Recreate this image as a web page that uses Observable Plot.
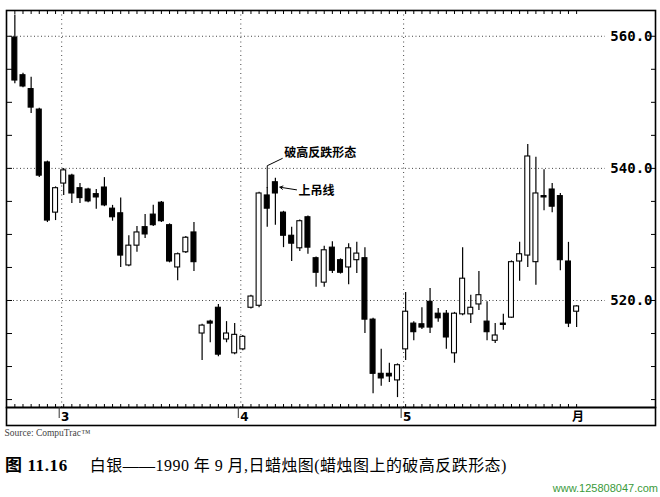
<!DOCTYPE html>
<html><head><meta charset="utf-8">
<script src="https://cdn.jsdelivr.net/npm/d3@7"></script>
<script src="https://cdn.jsdelivr.net/npm/@observablehq/plot@0.6"></script>
<style>
body{margin:0;background:#fff;width:660px;height:497px;overflow:hidden;position:relative}
#chart{position:absolute;left:0;top:0}
#caption{position:absolute;left:5px;top:451px;font-size:16px;font-family:"Liberation Serif","Noto Sans CJK SC",serif;white-space:nowrap;color:#000}
#caption .b{font-weight:bold;font-size:17px;letter-spacing:0.6px}
#caption .r{margin-left:22px;letter-spacing:0.45px}
#wm{position:absolute;right:2px;top:482px;font:11px "Liberation Sans",sans-serif;color:#3a9a3a}
</style></head><body>
<div id="chart"></div>
<div id="caption"><span class="b">图 11.16</span><span class="r">白银——1990 年 9 月,日蜡烛图(蜡烛图上的破高反跌形态)</span></div>
<div id="wm">www.125808047.com</div>
<script>
const opens = [559.8,554.1,552.0,548.9,540.9,533.3,537.7,538.9,537.0,536.8,
  536.1,537.1,533.9,533.2,525.3,528.3,531.1,533.0,534.8,531.4,
  525.0,527.3,530.3,515.0,516.8,518.9,514.1,512.0,512.6,518.9,
  519.2,535.9,537.9,533.3,529.8,527.9,532.6,526.4,522.7,528.0,
  526.1,525.0,526.1,526.4,517.1,508.9,508.9,507.9,512.6,516.5,
  516.4,519.8,518.0,518.0,512.0,517.9,517.9,519.4,516.8,513.9,
  516.5,517.4,525.9,526.8,525.8,535.8,536.8,535.8,525.9,518.3];
const highs = [563.2,554.4,553.8,549.1,541.1,537.2,540.0,539.1,537.7,537.0,
  536.8,538.6,534.4,535.5,529.8,531.2,533.0,534.4,535.0,531.6,
  527.2,529.7,531.8,516.4,517.0,519.4,516.8,516.5,514.7,520.8,
  536.4,537.1,538.5,533.5,531.1,532.2,532.8,526.6,528.2,528.9,
  526.3,528.6,528.8,528.0,517.3,512.6,510.5,510.4,521.2,516.8,
  518.9,521.8,518.8,518.5,518.2,528.0,520.8,524.4,519.8,516.5,
  517.9,526.0,528.8,543.6,541.7,539.8,537.7,536.2,528.8,519.2];
const lows = [552.8,552.2,548.3,538.6,531.8,532.1,535.9,534.7,534.7,534.8,
  533.8,534.2,532.0,525.0,525.1,527.3,529.4,531.2,531.8,525.7,
  523.0,527.1,524.4,510.9,513.6,511.5,513.6,511.8,512.4,518.7,
  518.9,531.1,531.4,528.0,525.9,527.4,527.0,522.0,522.0,524.1,
  524.0,522.4,524.1,515.0,505.9,507.0,507.6,505.3,510.9,513.9,
  515.6,515.0,516.7,512.6,510.5,517.7,516.5,518.5,513.9,513.5,
  515.5,517.3,522.9,525.0,522.3,533.6,533.3,524.5,515.9,515.9];
const closes = [553.3,552.4,549.2,538.9,532.1,537.0,539.7,536.2,535.5,535.0,
  535.6,534.4,532.6,526.8,528.3,530.3,530.0,531.4,532.0,525.9,
  527.0,529.5,525.8,516.2,516.5,511.8,515.0,514.8,514.5,520.6,
  536.2,533.9,536.2,529.8,528.6,532.0,528.0,524.2,527.6,524.5,
  524.2,527.9,527.1,517.1,508.9,508.2,508.5,510.2,518.3,515.2,
  515.9,515.9,517.3,514.4,518.0,523.3,518.9,520.8,515.2,514.7,
  516.3,525.8,527.0,541.8,536.2,535.6,534.2,526.1,516.5,519.1];

const priceTicks = [505,510,515,520,525,530,535,540,545,550,555,560];
const priceLabels = [520, 540, 560];
const monthStarts = [6, 28, 48];
const monthLabelPos = [6, 28, 48, 69];
const monthLabels = ["3", "4", "5", "月"];
const sourceText = "Source: CompuTrac™";
const leader = [{x: 31, y: 537.1}, {x: 31, y: 540.4}, {x: 32.85, y: 541.5}];
const notes = [
  {x: 33.1, y: 542.3, text: "破高反跌形态"},
  {x: 34.85, y: 536.5, text: "上吊线"}
];
const arrows = [{x1: 34.6, y1: 536.75, x2: 32.55, y2: 537.15}];

const candles = opens.map((o, i) => ({i, open: o, high: highs[i], low: lows[i], close: closes[i]}));
const idx = candles.map(d => d.i);
const blank = () => "";

const chart = Plot.plot({
  width: 660, height: 440,
  marginTop: 10, marginBottom: 33, marginLeft: 6, marginRight: 5,
  x: {type: "linear", domain: [-1.026, 78.69]},
  y: {domain: [503.8, 563.9]},
  style: {background: "#fff", color: "#000"},
  marks: [
    Plot.ruleY(priceLabels, {stroke: "#444", strokeDasharray: "1,2.5", insetRight: 50}),
    Plot.ruleX(monthStarts, {dx: -2, stroke: "#444", strokeDasharray: "1,3.5"}),
    Plot.ruleX(candles, {x: "i", y1: "low", y2: "high", stroke: "#000", strokeWidth: 1.2}),
    Plot.rect(candles, {
      x1: d => d.i - 0.5, x2: d => d.i + 0.5, y1: "open", y2: "close",
      insetLeft: 1.6, insetRight: 1.6,
      fill: d => d.close < d.open ? "#000" : "#fff", stroke: "#000", strokeWidth: 1.1
    }),
    Plot.frame({stroke: "#000", strokeWidth: 1.6}),
    Plot.frame({insetTop: 397, insetBottom: -18, stroke: "#000", strokeWidth: 1.6}),
    Plot.axisX({anchor: "top", ticks: idx, tickSize: -3, tickFormat: blank, label: null}),
    Plot.axisX({anchor: "bottom", ticks: idx, tickSize: -3, tickFormat: blank, label: null}),
    Plot.axisX({anchor: "bottom", ticks: monthStarts, tickSize: 11, dx: -4.5, tickFormat: blank, label: null, stroke: "#333"}),
    Plot.axisY({anchor: "left", ticks: priceTicks, tickSize: -6, tickFormat: blank, label: null}),
    Plot.axisY({anchor: "right", ticks: priceTicks, tickSize: -5, tickFormat: blank, label: null}),
    Plot.axisY({anchor: "right", ticks: priceLabels, tickSize: 0, tickPadding: -3, textAnchor: "end",
      tickFormat: d => d.toFixed(1), label: null, fontSize: 14, fontWeight: "bold", fontFamily: "DejaVu Sans Mono"}),
    Plot.text(monthLabelPos, {x: d => d, text: (d, i) => monthLabels[i], frameAnchor: "bottom", lineAnchor: "middle",
      dy: 10, dx: 1.5, fontSize: 12, fontWeight: "bold", fontFamily: "DejaVu Sans, Noto Sans CJK SC"}),
    Plot.text([sourceText], {frameAnchor: "bottom-left", lineAnchor: "middle", dy: 25, dx: -2, textAnchor: "start",
      fontSize: 9.5, fontFamily: "Liberation Serif", fill: "#444"}),
    Plot.line(leader, {x: "x", y: "y", stroke: "#000", strokeWidth: 1}),
    Plot.arrow(arrows, {x1: "x1", y1: "y1", x2: "x2", y2: "y2", headLength: 5, stroke: "#000", strokeWidth: 1}),
    Plot.text(notes, {x: "x", y: "y", text: "text", textAnchor: "start", fontSize: 12, fontWeight: "bold",
      fontFamily: "Noto Sans CJK SC"})
  ]
});
document.getElementById("chart").append(chart);
</script>
</body></html>
